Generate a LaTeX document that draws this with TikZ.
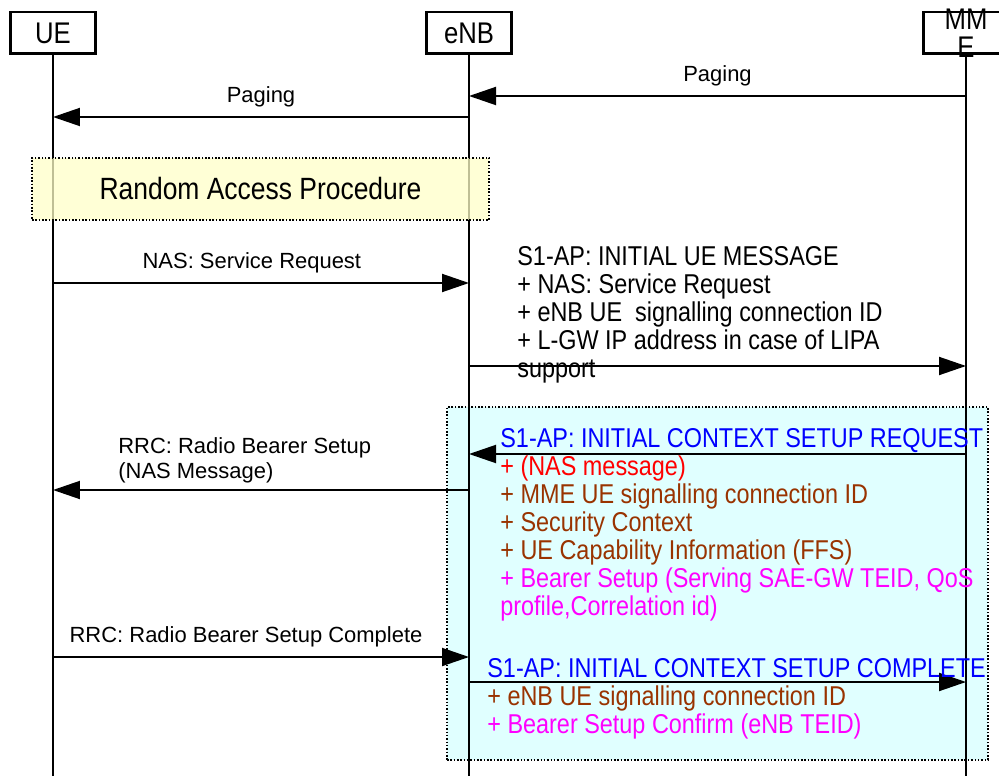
\documentclass[tikz,border=0pt]{standalone}
\usepackage{fontspec}
\setmainfont{Liberation Sans}
\newfontfamily\condfont[FakeStretch=0.86]{Liberation Sans}
\usetikzlibrary{arrows.meta}

\definecolor{msgblue}{RGB}{0,0,255}
\definecolor{msgred}{RGB}{255,0,0}
\definecolor{msgbrown}{RGB}{153,51,0}
\definecolor{msgpink}{RGB}{255,0,255}
\definecolor{rapyellow}{RGB}{255,255,200}
\definecolor{ctxcyan}{RGB}{224,255,255}

\tikzset{
  entity/.style={draw, line width=1.7pt, minimum width=1.7cm, minimum height=0.84cm,
    inner sep=0pt, font=\condfont\fontsize{17}{16}\selectfont},
  life/.style={line width=1.1pt},
  msg/.style={line width=1.1pt, -{Triangle[length=0.54cm,width=0.36cm]}},
  lbl/.style={font=\fontsize{12.5}{14.2}\selectfont, inner sep=0pt},
  info/.style={font=\condfont\fontsize{15.5}{15.94}\selectfont, align=left,
    anchor=north west, inner sep=0pt},
  procbox/.style={draw, densely dotted, line width=0.9pt, inner sep=0pt}
}

\begin{document}
\begin{tikzpicture}[x=0.02cm, y=-0.02cm]
    \useasboundingbox (0,0) rectangle (999,776);

    % 背景框
    \node[procbox, fill=ctxcyan, minimum width=10.82cm, minimum height=7.06cm] (ctx) at (717.5,583.5) {};

    % 三个实体
    \node[entity] (ue) at (53,33) {UE};
    \node[entity] (enb) at (469,33) {eNB};
    \node[entity] (mme) at (966,33) {};
    \node[entity, draw=none, align=center] (mmetxt) at (mme) {MM\\E};

    % 生命线
    \coordinate (bot) at (0,776);
    \foreach \e in {ue,enb,mme}
        \draw[life] (\e.south) -- (\e |- bot);

    % 随机接入
    \node[procbox, fill=rapyellow, fill opacity=0.75, text opacity=1,
          minimum width=9.14cm, minimum height=1.24cm,
          font=\condfont\fontsize{17.5}{20}\selectfont] (rap) at (260.5,189) {Random Access Procedure};

    % 消息高度
    \coordinate (pg1) at (0,96);
    \coordinate (pg2) at (0,117);
    \coordinate (nas) at (0,283);
    \coordinate (ium) at (0,366);
    \coordinate (icsr) at (0,454);
    \coordinate (rbs) at (0,490);
    \coordinate (rbsc) at (0,657);
    \coordinate (icsc) at (0,682);

    % 消息
    \draw[msg] (mme |- pg1) -- node[lbl, above=5pt] {Paging} (enb |- pg1);
    \draw[msg] (enb |- pg2) -- node[lbl, above=5pt] {Paging} (ue |- pg2);
    \draw[msg] (ue |- nas) -- node[lbl, above=5pt, pos=0.478] {NAS: Service Request} (enb |- nas);
    \draw[msg] (enb |- ium) -- (mme |- ium);
    \draw[msg] (mme |- icsr) -- (enb |- icsr);
    \draw[msg] (enb |- rbs) -- (ue |- rbs);
    \draw[msg] (ue |- rbsc) -- node[lbl, above=5pt, pos=0.464] {RRC: Radio Bearer Setup Complete} (enb |- rbsc);
    \draw[msg] (enb |- icsc) -- (mme |- icsc);

    % 消息内容
    \node[info] (iumtxt) at (517,246) {S1-AP: INITIAL UE MESSAGE\\
        + NAS: Service Request\\
        + eNB UE~ signalling connection ID\\
        + L-GW IP address in case of LIPA\\
        support};
    \node[lbl, align=left, anchor=north west] (rbstxt) at (118,437) {RRC: Radio Bearer Setup\\(NAS Message)};
    \node[info] (icsrtxt) at (500,428) {\textcolor{msgblue}{S1-AP: INITIAL CONTEXT SETUP REQUEST}\\
        \textcolor{msgred}{+ (NAS message)}\\
        \textcolor{msgbrown}{+ MME UE signalling connection ID}\\
        \textcolor{msgbrown}{+ Security Context}\\
        \textcolor{msgbrown}{+ UE Capability Information (FFS)}\\
        \textcolor{msgpink}{+ Bearer Setup (Serving SAE-GW TEID, QoS}\\
        \textcolor{msgpink}{profile,Correlation id)}};
    \node[info] (icsctxt) at (487,658) {\textcolor{msgblue}{S1-AP: INITIAL CONTEXT SETUP COMPLETE}\\
        \textcolor{msgbrown}{+ eNB UE signalling connection ID}\\
        \textcolor{msgpink}{+ Bearer Setup Confirm (eNB TEID)}};
\end{tikzpicture}
\end{document}
